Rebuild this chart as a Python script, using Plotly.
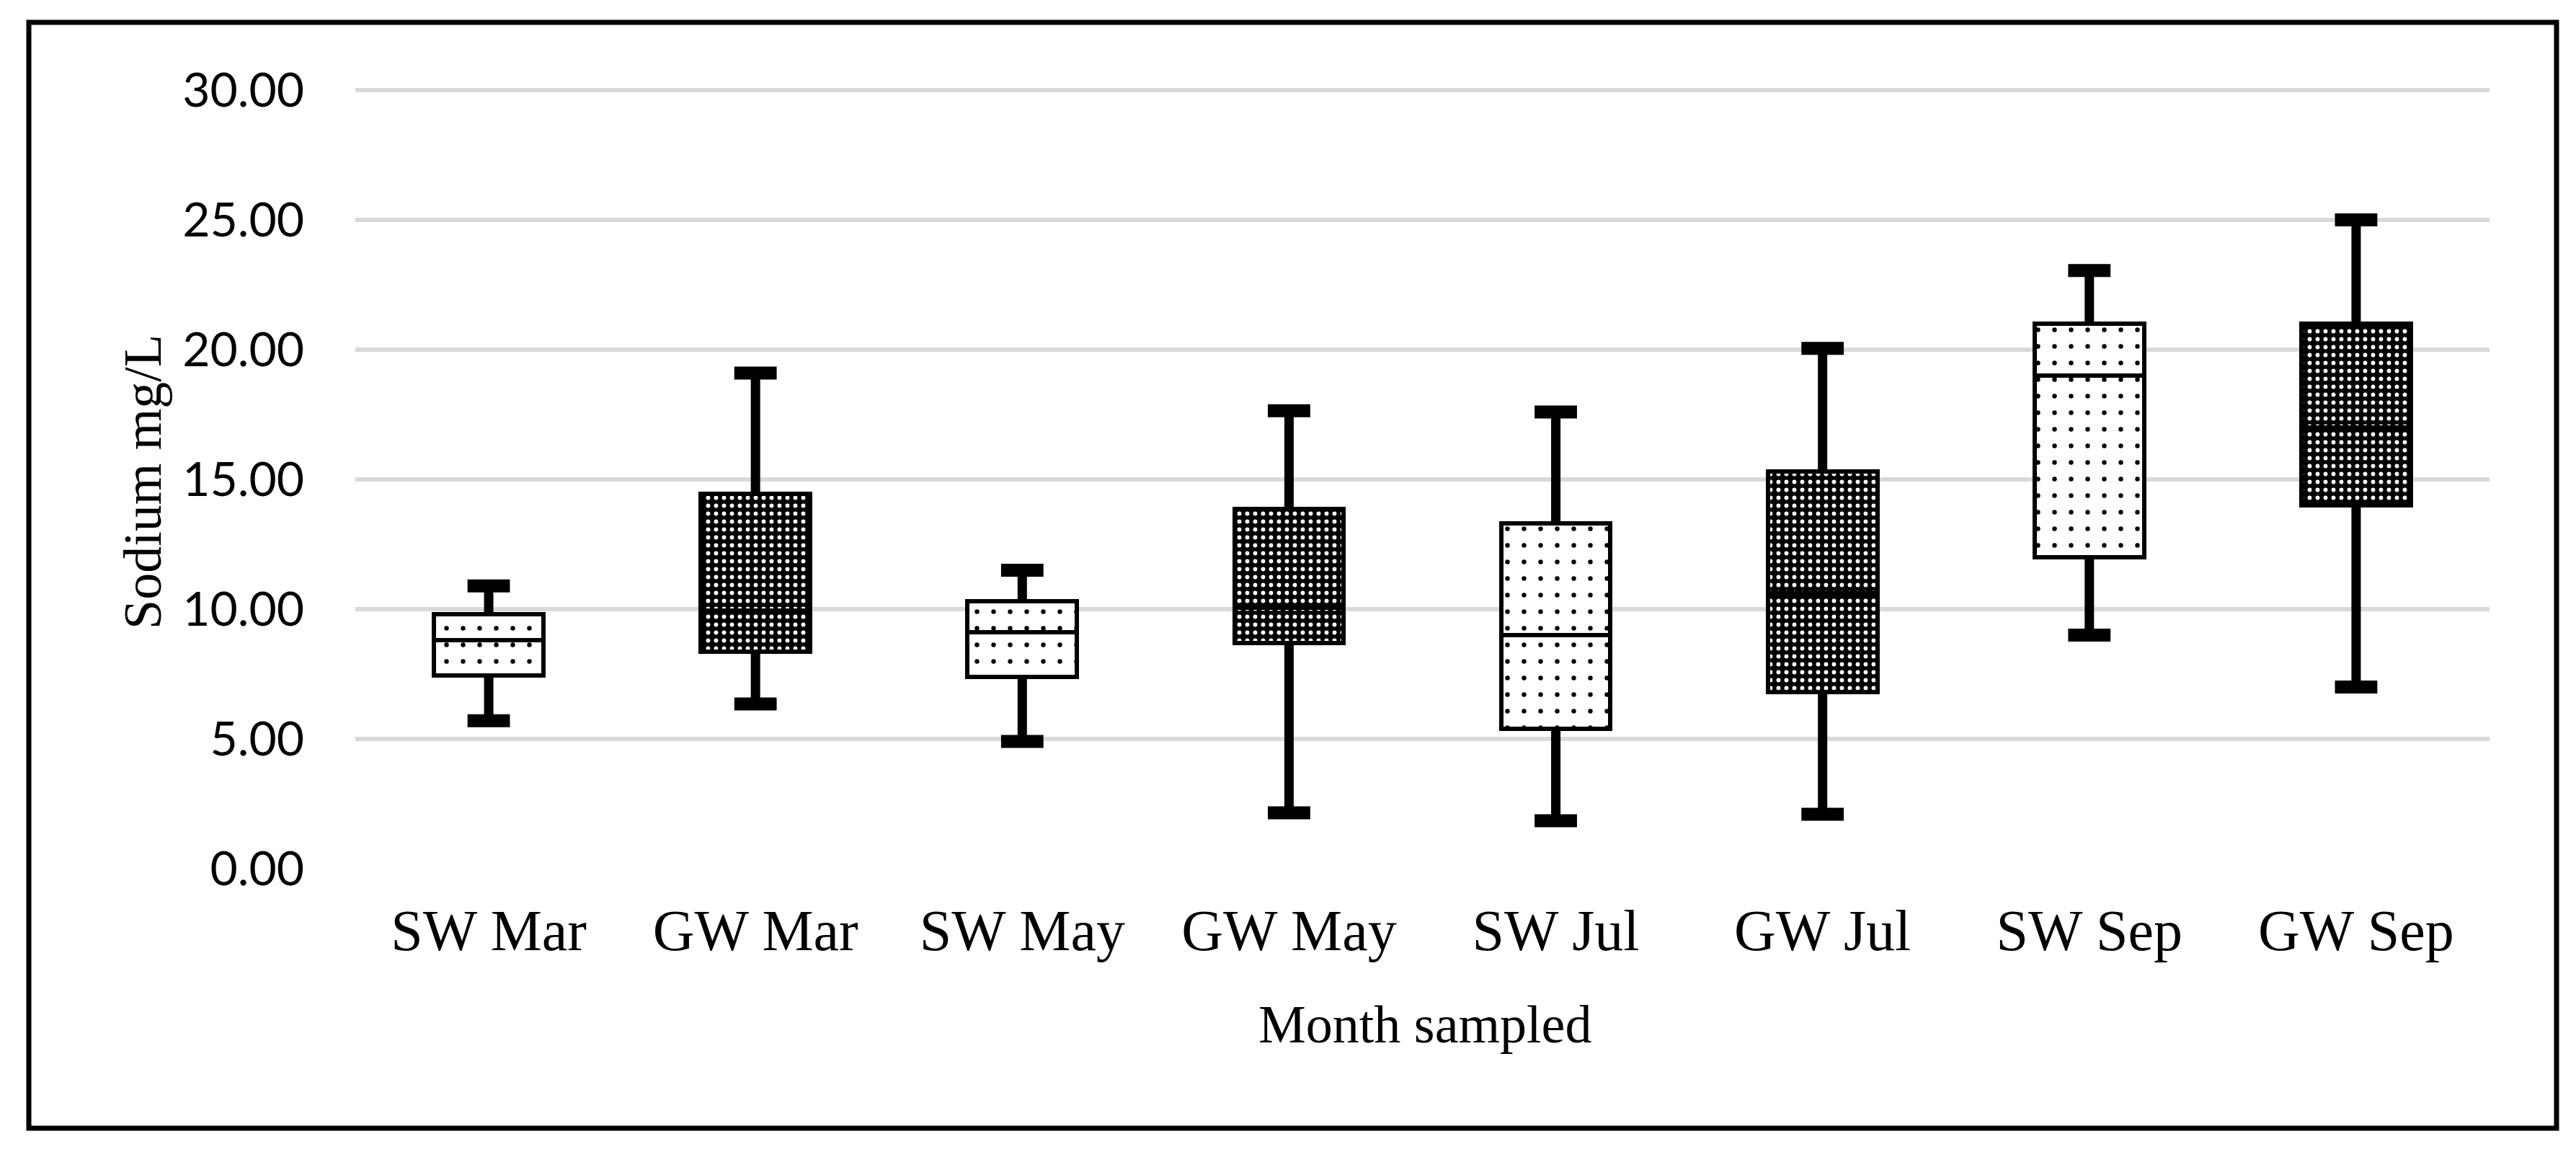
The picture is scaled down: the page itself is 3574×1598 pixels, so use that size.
import plotly.graph_objects as go

categories = ["SW Mar", "GW Mar", "SW May", "GW May", "SW Jul", "GW Jul", "SW Sep", "GW Sep"]
whisker_low = [5.7, 6.35, 4.9, 2.15, 1.85, 2.1, 9.0, 7.0]
q1 = [7.45, 8.35, 7.4, 8.7, 5.4, 6.8, 12.0, 14.0]
median = [8.8, 9.95, 9.1, 10.05, 9.0, 10.6, 19.0, 17.0]
q3 = [9.8, 14.45, 10.3, 13.85, 13.3, 15.3, 21.0, 21.0]
whisker_high = [10.9, 19.1, 11.5, 17.65, 17.6, 20.05, 23.05, 25.0]
y_ticks = [0, 5, 10, 15, 20, 25, 30]

W, H = 3574, 1598
L, R, T, B = 485, 128, 116, 401

fig = go.Figure()

BOX_W = 0.41
BORDER = 6

def pattern_for(cat):
    if cat.startswith("SW"):
        return dict(shape=".", fgcolor="black", bgcolor="white", size=23, solidity=0.06, fillmode="replace"), "white"
    return dict(shape=".", fgcolor="white", bgcolor="black", size=11, solidity=0.22, fillmode="replace"), "black"

for i, cat in enumerate(categories):
    pat, col = pattern_for(cat)
    fig.add_trace(go.Bar(
        x=[cat], y=[median[i] - q1[i]], base=[q1[i]], width=BOX_W,
        marker=dict(color=col, pattern=pat, line=dict(color="black", width=BORDER)),
        showlegend=False, hoverinfo="skip"))
    fig.add_trace(go.Bar(
        x=[cat], y=[q3[i] - median[i]], base=[median[i]], width=BOX_W,
        marker=dict(color=col, pattern=pat, line=dict(color="black", width=BORDER)),
        showlegend=False, hoverinfo="skip"))

wx, wy = [], []
for i, cat in enumerate(categories):
    wx += [cat, cat, None, cat, cat, None]
    wy += [q3[i], whisker_high[i], None, q1[i], whisker_low[i], None]
fig.add_trace(go.Scatter(x=wx, y=wy, mode="lines", line=dict(color="black", width=13),
                         showlegend=False, hoverinfo="skip", connectgaps=False))
fig.add_trace(go.Scatter(
    x=categories + categories, y=whisker_high + whisker_low, mode="markers",
    marker=dict(symbol="line-ew", size=42, line=dict(color="black", width=18)),
    showlegend=False, hoverinfo="skip"))

fig.update_layout(
    width=W, height=H,
    margin=dict(l=L, r=R, t=T, b=B, autoexpand=False),
    paper_bgcolor="white", plot_bgcolor="white",
    barmode="overlay", bargap=0,
    font=dict(family="Liberation Serif", color="black"),
)
fig.update_xaxes(
    type="category", categoryorder="array", categoryarray=categories,
    showgrid=False, zeroline=False, showline=False, ticks="",
    tickfont=dict(family="Liberation Serif", size=80, color="black"),
    ticklabelstandoff=32,
)
fig.update_yaxes(
    range=[0, 30.03], tickvals=y_ticks, ticktext=[f"{v:.2f}" for v in y_ticks],
    showgrid=True, gridcolor="#d9d9d9", gridwidth=6, zeroline=False, showline=False, ticks="",
    tickfont=dict(family="Lato", size=66, color="black"),
    ticklabelstandoff=70,
)

pw = W - L - R
ph = H - T - B
def px2paper_x(px):
    return (px - L) / pw
def px2paper_y(py):
    return (H - B - py) / ph

fig.add_annotation(text="Sodium mg/L", xref="paper", yref="paper",
                   x=px2paper_x(190), y=px2paper_y(661), xanchor="center", yanchor="middle",
                   textangle=-90, showarrow=False,
                   font=dict(family="Liberation Serif", size=74, color="black"))
fig.add_annotation(text="Month sampled", xref="paper", yref="paper",
                   x=px2paper_x(1969), y=px2paper_y(1413), xanchor="center", yanchor="middle",
                   showarrow=False,
                   font=dict(family="Liberation Serif", size=74, color="black"))
fig.add_shape(type="rect", xref="paper", yref="paper",
              x0=px2paper_x(32), x1=px2paper_x(3539), y0=px2paper_y(1557), y1=px2paper_y(23),
              line=dict(color="black", width=7), fillcolor="rgba(0,0,0,0)", layer="above")

fig.write_html("out.html")
